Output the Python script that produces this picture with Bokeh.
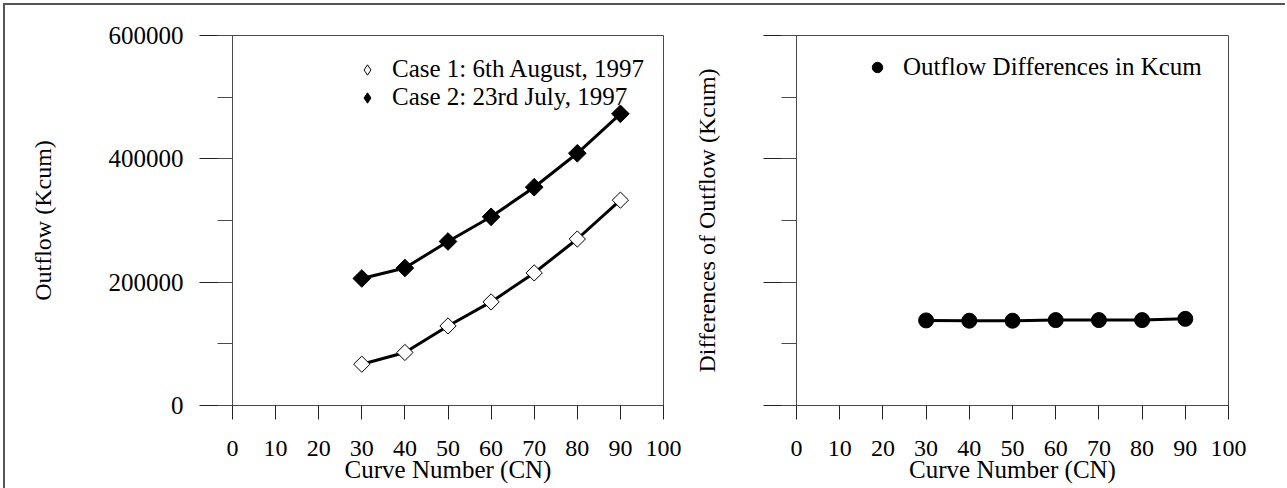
import math
from bokeh.plotting import figure
from bokeh.models import (Range1d, FixedTicker, SingleIntervalTicker, BasicTickFormatter,
                          Legend, LegendItem, CustomJSTickFormatter)
from bokeh.layouts import row
from bokeh.embed import file_html
from bokeh.resources import INLINE

# ---- data ----
cn = [30, 40, 50, 60, 70, 80, 90]
case1 = [67000, 86000, 129000, 168000, 215000, 270000, 333000]
case2 = [206000, 223000, 266000, 306000, 354000, 409000, 473000]
diff = [138000, 137500, 137500, 138500, 138500, 138500, 140500]
x_ticks = [0, 10, 20, 30, 40, 50, 60, 70, 80, 90, 100]
y_interval = 200000
label_case1 = "Case 1: 6th August, 1997"
label_case2 = "Case 2: 23rd July, 1997"
label_diff = "Outflow Differences in Kcum"

FONT = "Liberation Serif"
AXC = "#4a4a4a"


def make_fig(width, mbl, mbr, ylabel, show_ylabels, ylab_standoff):
    p = figure(width=width, height=483, x_range=Range1d(0, 100), y_range=Range1d(0, 600000),
               output_backend="svg", toolbar_location=None,
               min_border_left=mbl, min_border_right=mbr, min_border_top=30, min_border_bottom=83)
    p.grid.visible = False
    p.outline_line_color = AXC
    p.outline_line_width = 1
    p.background_fill_color = "white"
    p.border_fill_color = "white"

    xa = p.xaxis[0]
    xa.ticker = FixedTicker(ticks=x_ticks)
    xa.major_tick_in = 0
    xa.major_tick_out = 14
    xa.minor_tick_out = 0
    xa.minor_tick_in = 0
    xa.axis_line_color = AXC
    xa.major_tick_line_color = "#222222"
    xa.major_label_text_font = FONT
    xa.major_label_text_font_size = "24px"
    xa.major_label_text_color = "black"
    xa.major_label_standoff = 21
    xa.axis_label = "Curve Number (CN)"
    xa.axis_label_text_font = FONT
    xa.axis_label_text_font_size = "25px"
    xa.axis_label_text_font_style = "normal"
    xa.axis_label_text_color = "black"
    xa.axis_label_standoff = -3

    ya = p.yaxis[0]
    ya.ticker = SingleIntervalTicker(interval=y_interval, num_minor_ticks=2)
    ya.major_tick_in = 0
    ya.major_tick_out = 33
    ya.minor_tick_in = 0
    ya.minor_tick_out = 15
    ya.axis_line_color = AXC
    ya.major_tick_line_color = "#222222"
    ya.minor_tick_line_color = AXC
    ya.major_label_text_font = FONT
    ya.major_label_text_font_size = "25px"
    ya.major_label_text_color = "black"
    if show_ylabels:
        ya.formatter = BasicTickFormatter(use_scientific=False)
        ya.major_label_standoff = 16
    else:
        ya.formatter = CustomJSTickFormatter(code="return ''")
        ya.major_label_standoff = 0
    ya.axis_label = ylabel
    ya.axis_label_text_font = FONT
    ya.axis_label_text_font_size = "24px"
    ya.axis_label_text_font_style = "normal"
    ya.axis_label_text_color = "black"
    ya.axis_label_standoff = ylab_standoff
    return p


def style_legend(leg):
    leg.border_line_color = None
    leg.background_fill_alpha = 0
    leg.padding = 0
    leg.spacing = 0
    leg.margin = 0
    leg.glyph_width = 26
    leg.glyph_height = 27
    leg.label_height = 27
    leg.label_text_font = FONT
    leg.label_text_font_size = "25px"
    leg.label_text_color = "black"


# ---- left panel ----
p1 = make_fig(685, 227, 27, "Outflow (Kcum)", True, 50)
p1.line(cn, case1, line_color="black", line_width=3)
p1.line(cn, case2, line_color="black", line_width=3)
p1.scatter(cn, case1, marker="square", angle=math.pi / 4, size=11.5,
           fill_color="white", line_color="black", line_width=1)
p1.scatter(cn, case2, marker="square", angle=math.pi / 4, size=12.5,
           fill_color="black", line_color="black", line_width=1)
nan = [float("nan")]
d1 = p1.scatter(nan, nan, marker="diamond", fill_color="white", line_color="black", line_width=1)
d2 = p1.scatter(nan, nan, marker="diamond", fill_color="black", line_color="black", line_width=1)
leg1 = Legend(items=[LegendItem(label=label_case1, renderers=[d1]),
                     LegendItem(label=label_case2, renderers=[d2])],
             location=(122, 294))
style_legend(leg1)
leg1.label_standoff = 12
p1.add_layout(leg1)

# ---- right panel ----
p2 = make_fig(595, 106, 57, "Differences of Outflow (Kcum)", False, 44)
p2.line(cn, diff, line_color="black", line_width=3)
p2.scatter(cn, diff, marker="circle", size=15, fill_color="black", line_color="black")
d3 = p2.scatter(nan, nan, marker="circle", fill_color="black", line_color="black")
leg2 = Legend(items=[LegendItem(label=label_diff, renderers=[d3])], location=(68, 321))
style_legend(leg2)
leg2.glyph_height = 34
leg2.label_height = 34
leg2.label_standoff = 13
p2.add_layout(leg2)

layout = row(p1, p2, styles={"border-top": "2px solid #555555", "border-left": "2px solid #555555"},
             margin=(3, 0, 0, 3))

open("out.html", "w").write(file_html(layout, INLINE))
